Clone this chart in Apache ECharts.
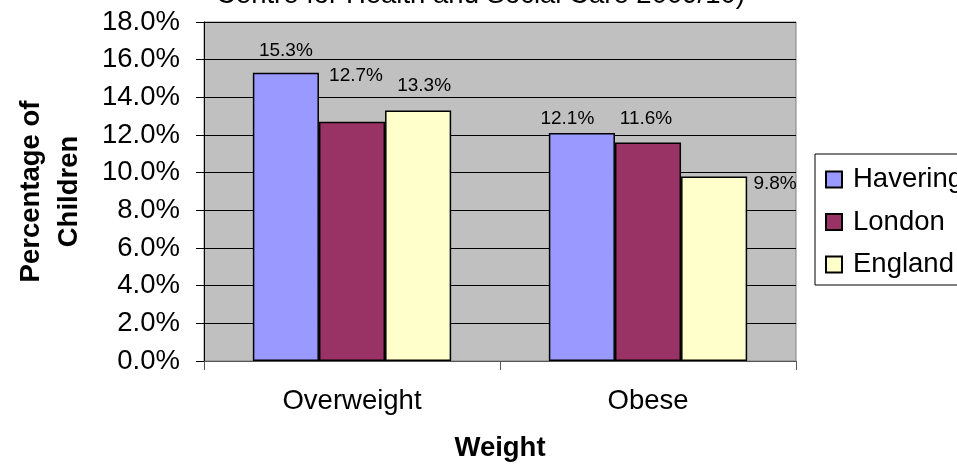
<!DOCTYPE html>
<html>
<head>
<meta charset="utf-8">
<script src="https://cdn.jsdelivr.net/npm/echarts@6/dist/echarts.min.js"></script>
<style>html,body{margin:0;padding:0;background:#fff;}#c{width:957px;height:465px;}</style>
</head>
<body>
<div id="c"></div>
<script>
var categories = ['Overweight', 'Obese'];
var havering = [15.3, 12.1];
var london = [12.7, 11.6];
var england = [13.3, 9.8];
var yTicks = [0, 2, 4, 6, 8, 10, 12, 14, 16, 18];

var FONT = 'Liberation Sans, Arial, sans-serif';
var FS = 27.5;
// label offsets (styling only)
var labelOffsets = {
  Havering: [[0, -8], [-14.5, 0.5]],
  London: [[4, -31.5], [-2, -9.5]],
  England: [[6, -10], [61, 22]]
};
function mkData(name, vals) {
  return vals.map(function (v, i) {
    return { value: v, label: { offset: labelOffsets[name][i] } };
  });
}
function mkSeries(name, vals, color) {
  return {
    name: name, type: 'bar', data: mkData(name, vals),
    barGap: '0%', barCategoryGap: '33%',
    itemStyle: { color: color, borderColor: '#000', borderWidth: 1.5 },
    label: {
      show: true, position: 'top', distance: 5,
      fontFamily: FONT, fontSize: 19, color: '#000',
      formatter: function (p) { return p.value.toFixed(1) + '%'; }
    },
    emphasis: { disabled: true }
  };
}
var chart = echarts.init(document.getElementById('c'), null, { renderer: 'canvas' });
chart.setOption({
  animation: false,
  backgroundColor: '#fff',
  title: {
    text: 'Centre for Health and Social Care 2009/10)',
    left: 216, top: -19, padding: 0,
    textStyle: { fontFamily: FONT, fontSize: FS, fontWeight: 'normal', color: '#000' }
  },
  grid: {
    left: 204, right: 161, top: 22, bottom: 104,
    outerBoundsMode: 'none', containLabel: false,
    show: true, backgroundColor: '#C0C0C0', borderColor: '#808080', borderWidth: 1
  },
  legend: {
    orient: 'vertical', left: 815, top: 154,
    width: 400,
    padding: [11.5, 250, 6.5, 10],
    itemWidth: 16, itemHeight: 16, itemGap: 14.5,
    icon: 'rect',
    backgroundColor: '#fff', borderColor: '#000', borderWidth: 1,
    textStyle: { fontFamily: FONT, fontSize: FS, lineHeight: 27, color: '#000', padding: [0, 0, 0, 6] },
    data: ['Havering', 'London', 'England']
  },
  xAxis: {
    type: 'category', data: categories,
    name: 'Weight', nameLocation: 'middle', nameGap: 73,
    nameTextStyle: { fontFamily: FONT, fontSize: FS, fontWeight: 'bold', color: '#000' },
    axisLine: { lineStyle: { color: '#555', width: 1 } },
    axisTick: { show: true, length: 9, lineStyle: { color: '#555' }, alignWithLabel: false },
    axisLabel: { fontFamily: FONT, fontSize: FS, color: '#000', margin: 26 }
  },
  yAxis: {
    type: 'value', min: 0, max: 18, interval: 2,
    name: 'Percentage of\nChildren', nameLocation: 'middle', nameGap: 116, nameRotate: 90,
    nameTextStyle: { fontFamily: FONT, fontSize: FS, fontWeight: 'bold', color: '#000', lineHeight: 38 },
    axisLine: { show: true, lineStyle: { color: '#000', width: 1 } },
    axisTick: { show: true, length: 8, lineStyle: { color: '#000' } },
    axisLabel: {
      fontFamily: FONT, fontSize: FS, color: '#000', margin: 24,
      formatter: function (v) { return v.toFixed(1) + '%'; }
    },
    splitLine: { show: true, lineStyle: { color: '#000', width: 1 } }
  },
  series: [
    mkSeries('Havering', havering, '#9999FF'),
    mkSeries('London', london, '#993366'),
    mkSeries('England', england, '#FFFFCC')
  ]
});
</script>
</body>
</html>
